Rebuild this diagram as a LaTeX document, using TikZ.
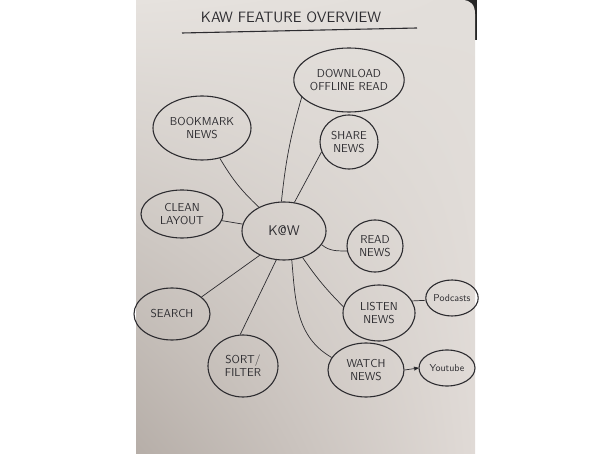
\documentclass[tikz,border=0pt]{standalone}
\usepackage{tikz}
\usetikzlibrary{shapes.geometric,arrows,shadings}
\definecolor{paperUL}{RGB}{230,226,222}
\definecolor{paperUR}{RGB}{226,222,218}
\definecolor{paperLL}{RGB}{182,174,168}
\definecolor{paperLR}{RGB}{224,218,214}
\definecolor{pen}{RGB}{45,44,48}
\tikzset{idea/.style={ellipse,draw=pen,line width=1.1pt,inner sep=0pt,align=center,text=pen,font=\sffamily\fontsize{11.5}{13}\selectfont}}

\begin{document}
\begin{tikzpicture}[x=1pt,y=-1pt,>=stealth',line width=0.7pt]
	\useasboundingbox (0,0) rectangle (605,454);
	% sheet of paper
	\fill[black!85] (464,0) rectangle (477,40);
	\shade[upper left=paperUL,upper right=paperUR,lower left=paperLL,lower right=paperLR]
		(136,0) -- (462,0) .. controls (471,0) and (475,5) .. (475,14) -- (475,454) -- (136,454) -- cycle;
	% title
	\node[text=pen,font=\sffamily\fontsize{15}{16}\selectfont] (title) at (291,17) {KAW FEATURE OVERVIEW};
	\draw[pen,line width=1.1pt] (182,33) -- (417,28);
	\node[idea,minimum width=108,minimum height=64] (down) at (349,80) {DOWNLOAD\\OFFLINE READ};
	\node[idea,minimum width=98,minimum height=64] (book) at (202,128) {BOOKMARK\\NEWS};
	\node[idea,minimum width=58,minimum height=54] (share) at (349,142) {SHARE\\NEWS};
	\node[idea,minimum width=82,minimum height=48] (clean) at (182,214) {CLEAN\\LAYOUT};
	\node[idea,minimum width=84,minimum height=58,font=\sffamily\fontsize{14}{16}\selectfont] (kaw) at (284,231) {K@W};
	\node[idea,minimum width=56,minimum height=52] (read) at (375,246) {READ\\NEWS};
	\node[idea,minimum width=72,minimum height=56] (listen) at (379,313) {LISTEN\\NEWS};
	\node[idea,minimum width=48,minimum height=36,font=\sffamily\fontsize{10}{12}\selectfont] (pod) at (452,298) {Podcasts};
	\node[idea,minimum width=76,minimum height=54] (watch) at (366,370) {WATCH\\NEWS};
	\node[idea,minimum width=56,minimum height=36,font=\sffamily\fontsize{10}{12}\selectfont] (yt) at (447,368) {Youtube};
	\node[idea,minimum width=76,minimum height=52] (search) at (172,314) {SEARCH};
	\node[idea,minimum width=70,minimum height=62] (sort) at (243,366) {SORT/\\FILTER};
	\path[draw=pen]
		(book) edge [bend right=8] (kaw)
		(down.200) edge [bend right=5] (kaw.95)
		(share.200) edge (kaw.70)
		(clean) edge (kaw)
		(kaw.-20) edge [out=-40,in=180] (read.190)
		(kaw.225) edge (search.30)
		(kaw.255) edge (sort.95)
		(kaw.285) edge [out=-85,in=150] (watch.160)
		(kaw.-55) edge [bend right=5] (listen.170)
		(pod.185) edge (listen.20)
		(watch.east) edge [->] (yt.west);
\end{tikzpicture}
\end{document}
